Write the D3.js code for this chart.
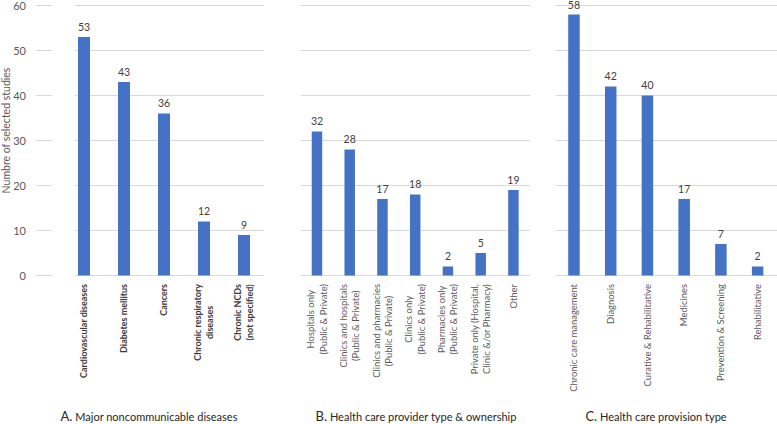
<!DOCTYPE html>
<html>
<head>
<meta charset="utf-8">
<script src="https://cdn.jsdelivr.net/npm/d3@7"></script>
<style>
  body { margin: 0; background: #fff; }
  svg { display: block; font-family: Lato, "Open Sans", sans-serif; }
</style>
</head>
<body>
<svg id="chart" width="777" height="424"></svg>
<script>
// ---- Data ----
const diseaseCategories = ["Cardiovascular diseases", "Diabetes mellitus", "Cancers", "Chronic respiratory\ndiseases", "Chronic NCDs\n(not specified)"];
const diseaseValues = [53, 43, 36, 12, 9];

const providerCategories = ["Hospitals only\n(Public & Private)", "Clinics and hospitals\n(Public & Private)", "Clinics and pharmacies\n(Public & Private)", "Clinics only\n(Public & Private)", "Pharmacies only\n(Public & Private)", "Private only (Hospital,\nClinic &/or Pharmacy)", "Other"];
const providerValues = [32, 28, 17, 18, 2, 5, 19];

const provisionCategories = ["Chronic care management", "Diagnosis", "Curative & Rehabilitative", "Medicines", "Prevention & Screening", "Rehabilitative"];
const provisionValues = [58, 42, 40, 17, 7, 2];

const yTicks = [0, 10, 20, 30, 40, 50, 60];
const yTitle = "Numbre of selected studies";
const captionLetters = ["A.", "B.", "C."];
const captionTexts = ["Major noncommunicable diseases", "Health care provider type & ownership", "Health care provision type"];

// ---- Layout ----
const svg = d3.select("#chart");
const barColor = "#4472c4";
const gridColor = "#d9d9d9";
const labelFont = "Lato, sans-serif";
const y = d3.scaleLinear().domain([0, 60]).range([275.5, 5.5]);

// size category labels so that the reference label length is matched
const probe = svg.append("text").attr("font-family", labelFont).attr("font-size", "10px").text("Chronic care management");
const labelSize = 10 * 108 / probe.node().getComputedTextLength();
probe.remove();

const panels = [
  { cats: diseaseCategories, vals: diseaseValues, range: [64, 264], grid: [75, 264], pi: 0.7, bold: true, cap: 149 },
  { cats: providerCategories, vals: providerValues, range: [300.6, 529.8], grid: [300.6, 530], pi: 0.68, bold: false, cap: 416 },
  { cats: provisionCategories, vals: provisionValues, range: [555.6, 776], grid: [555.6, 777], pi: 0.687, bold: false, cap: 656 }
];

// y axis (narrow separate axis with short tick dashes)
const yAxis = d3.axisLeft(y).tickValues(yTicks).tickSize(0).tickPadding(0);
const yg = svg.append("g").attr("transform", "translate(26,0)").call(yAxis);
yg.select(".domain").remove();
yg.selectAll("text").attr("fill", "#595959").attr("font-size", "11px").attr("font-family", labelFont).attr("x", 0);
svg.append("g").selectAll("line").data(yTicks).join("line")
  .attr("x1", 36).attr("x2", 52)
  .attr("y1", d => y(d)).attr("y2", d => y(d))
  .attr("stroke", gridColor).attr("stroke-width", 1);

svg.append("text")
  .attr("transform", `translate(10,${(y(0)+y(60))/2 - 10}) rotate(-90)`)
  .attr("text-anchor", "middle")
  .attr("fill", "#595959").attr("font-size", "10.5px")
  .text(yTitle);

panels.forEach((p, pi) => {
  const x = d3.scaleBand().domain(p.cats).range(p.range).paddingInner(p.pi).paddingOuter(p.pi / 2);
  const g = svg.append("g");
  // gridlines
  g.selectAll("line.grid").data(yTicks).join("line").attr("class", "grid")
    .attr("x1", p.grid[0]).attr("x2", p.grid[1])
    .attr("y1", d => y(d)).attr("y2", d => y(d))
    .attr("stroke", gridColor).attr("stroke-width", 1);
  // bars
  g.selectAll("rect").data(p.cats).join("rect")
    .attr("x", d => x(d)).attr("width", x.bandwidth())
    .attr("y", (d, i) => y(p.vals[i])).attr("height", (d, i) => y(0) - y(p.vals[i]))
    .attr("fill", barColor);
  // value labels
  g.selectAll("text.val").data(p.cats).join("text").attr("class", "val")
    .attr("x", d => x(d) + x.bandwidth() / 2)
    .attr("y", (d, i) => Math.max(y(p.vals[i]) - 6.5, 9))
    .attr("text-anchor", "middle").attr("fill", "#404040").attr("font-size", "10.5px")
    .text((d, i) => p.vals[i]);
  // category labels
  p.cats.forEach(c => {
    const lines = c.split("\n");
    const cx = x(c) + x.bandwidth() / 2;
    const lg = g.append("g").attr("transform", `translate(${cx},284) rotate(-90)`);
    const ts = lines.map((ln, li) => lg.append("text")
      .attr("font-family", labelFont)
      .attr("font-size", (p.bold ? labelSize * 0.95 : labelSize) + "px")
      .attr("font-weight", p.bold ? "bold" : "normal")
      .attr("fill", p.bold ? "#3a3a3a" : "#595959")
      .attr("text-anchor", "middle")
      .attr("y", (li - (lines.length - 1) / 2) * 12.5)
      .attr("dy", "0.35em")
      .text(ln));
    const W = d3.max(ts, t => t.node().getComputedTextLength());
    ts.forEach(t => t.attr("x", -W / 2));
  });
  // caption
  const cap = svg.append("text").attr("x", p.cap).attr("y", 421).attr("text-anchor", "middle").attr("fill", "#262626");
  cap.append("tspan").attr("font-size", "13px").text(captionLetters[pi]);
  cap.append("tspan").attr("font-size", "11px").text(" " + captionTexts[pi]);
});
</script>
</body>
</html>
